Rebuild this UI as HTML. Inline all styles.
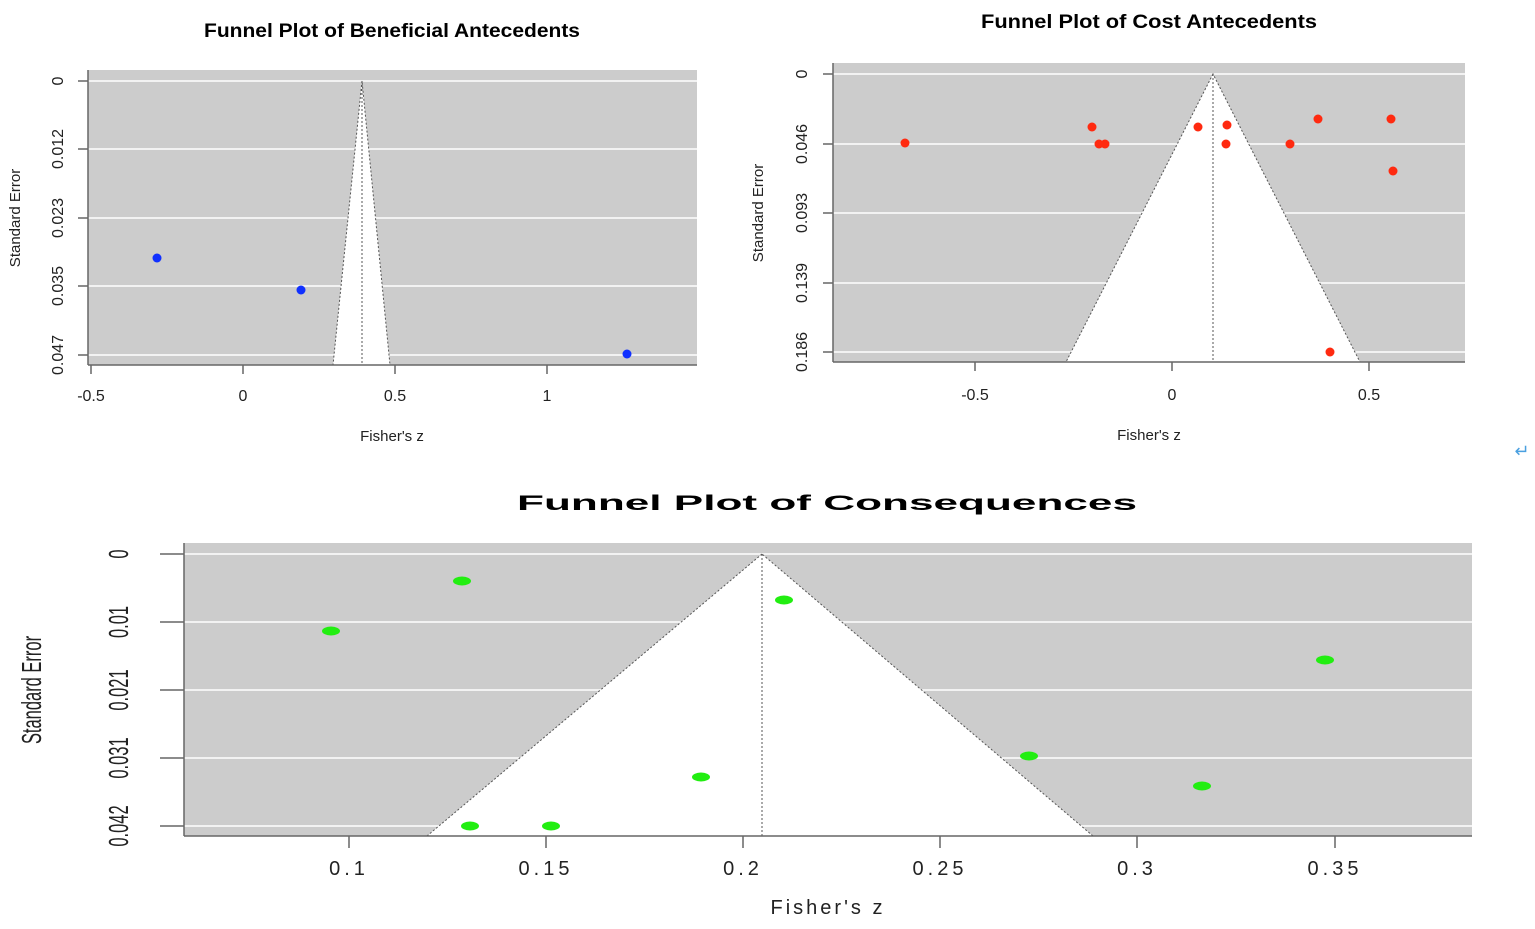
<!DOCTYPE html>
<html><head><meta charset="utf-8"><style>html,body{margin:0;padding:0;background:#fff}svg{display:block}</style></head>
<body>
<svg width="1535" height="929" viewBox="0 0 1535 929" xmlns="http://www.w3.org/2000/svg" font-family="Liberation Sans, sans-serif">
<!-- Plot 1 -->
<text x="392" y="37" font-size="19" font-weight="bold" text-anchor="middle" textLength="376" lengthAdjust="spacingAndGlyphs">Funnel Plot of Beneficial Antecedents</text>
<rect x="88" y="70" width="609" height="295" fill="#cccccc"/>
<g stroke="#f2f2f2" stroke-width="2"><line x1="88" y1="81" x2="697" y2="81"/><line x1="88" y1="149" x2="697" y2="149"/><line x1="88" y1="218" x2="697" y2="218"/><line x1="88" y1="286" x2="697" y2="286"/><line x1="88" y1="355" x2="697" y2="355"/></g>
<polygon points="362,81 333,365 390,365" fill="#fff" stroke="#555" stroke-width="1" stroke-dasharray="2,2"/>
<line x1="362" y1="81" x2="362" y2="365" stroke="#555" stroke-dasharray="2,2"/>
<g stroke="#666" stroke-width="1.5" fill="none"><line x1="88" y1="70" x2="88" y2="365"/><line x1="88" y1="365" x2="697" y2="365"/>
<line x1="78" y1="81" x2="88" y2="81"/><line x1="78" y1="149" x2="88" y2="149"/><line x1="78" y1="218" x2="88" y2="218"/><line x1="78" y1="286" x2="88" y2="286"/><line x1="78" y1="355" x2="88" y2="355"/>
<line x1="91" y1="365" x2="91" y2="374"/><line x1="243" y1="365" x2="243" y2="374"/><line x1="395" y1="365" x2="395" y2="374"/><line x1="547" y1="365" x2="547" y2="374"/></g>
<g font-size="16" fill="#222" text-anchor="middle"><text x="91" y="401">-0.5</text><text x="243" y="401">0</text><text x="395" y="401">0.5</text><text x="547" y="401">1</text></g>
<g font-size="16" fill="#222" text-anchor="middle">
<text transform="translate(63,81) rotate(-90)">0</text><text transform="translate(63,149) rotate(-90)">0.012</text><text transform="translate(63,218) rotate(-90)">0.023</text><text transform="translate(63,286) rotate(-90)">0.035</text><text transform="translate(63,355) rotate(-90)">0.047</text>
<text transform="translate(20,218) rotate(-90)" font-size="15">Standard Error</text></g>
<text x="392" y="441" font-size="15" text-anchor="middle" fill="#222">Fisher's z</text>
<g fill="#1030ff"><circle cx="157" cy="258" r="4.5"/><circle cx="301" cy="290" r="4.5"/><circle cx="627" cy="354" r="4.5"/></g>

<!-- Plot 2 -->
<text x="1149" y="28" font-size="19" font-weight="bold" text-anchor="middle" textLength="336" lengthAdjust="spacingAndGlyphs">Funnel Plot of Cost Antecedents</text>
<rect x="833" y="63" width="632" height="299" fill="#cccccc"/>
<g stroke="#f2f2f2" stroke-width="2"><line x1="833" y1="74" x2="1465" y2="74"/><line x1="833" y1="144" x2="1465" y2="144"/><line x1="833" y1="213" x2="1465" y2="213"/><line x1="833" y1="283" x2="1465" y2="283"/><line x1="833" y1="352" x2="1465" y2="352"/></g>
<polygon points="1213,74 1066,362 1360,362" fill="#fff" stroke="#555" stroke-width="1" stroke-dasharray="2,2"/>
<line x1="1213" y1="74" x2="1213" y2="362" stroke="#555" stroke-dasharray="2,2"/>
<g stroke="#666" stroke-width="1.5"><line x1="833" y1="63" x2="833" y2="362"/><line x1="833" y1="362" x2="1465" y2="362"/>
<line x1="823" y1="74" x2="833" y2="74"/><line x1="823" y1="144" x2="833" y2="144"/><line x1="823" y1="213" x2="833" y2="213"/><line x1="823" y1="283" x2="833" y2="283"/><line x1="823" y1="352" x2="833" y2="352"/>
<line x1="975" y1="362" x2="975" y2="371"/><line x1="1172" y1="362" x2="1172" y2="371"/><line x1="1369" y1="362" x2="1369" y2="371"/></g>
<g font-size="16" fill="#222" text-anchor="middle"><text x="975" y="400">-0.5</text><text x="1172" y="400">0</text><text x="1369" y="400">0.5</text></g>
<g font-size="16" fill="#222" text-anchor="middle">
<text transform="translate(807,74) rotate(-90)">0</text><text transform="translate(807,144) rotate(-90)">0.046</text><text transform="translate(807,213) rotate(-90)">0.093</text><text transform="translate(807,283) rotate(-90)">0.139</text><text transform="translate(807,352) rotate(-90)">0.186</text>
<text transform="translate(763,213) rotate(-90)" font-size="15">Standard Error</text></g>
<text x="1149" y="440" font-size="15" text-anchor="middle" fill="#222">Fisher's z</text>
<g fill="#ff2a10"><circle cx="905" cy="143" r="4.5"/><circle cx="1092" cy="127" r="4.5"/><circle cx="1099" cy="144" r="4.5"/><circle cx="1105" cy="144" r="4.5"/><circle cx="1198" cy="127" r="4.5"/><circle cx="1227" cy="125" r="4.5"/><circle cx="1226" cy="144" r="4.5"/><circle cx="1290" cy="144" r="4.5"/><circle cx="1318" cy="119" r="4.5"/><circle cx="1391" cy="119" r="4.5"/><circle cx="1393" cy="171" r="4.5"/><circle cx="1330" cy="352" r="4.5"/></g>
<text x="1522" y="457" font-size="18" fill="#4aa0e0" text-anchor="middle">↵</text>

<!-- Plot 3 -->
<text x="827" y="510" font-size="21" font-weight="bold" text-anchor="middle" textLength="620" lengthAdjust="spacingAndGlyphs">Funnel Plot of Consequences</text>
<rect x="184" y="543" width="1288" height="293" fill="#cccccc"/>
<g stroke="#f2f2f2" stroke-width="2"><line x1="184" y1="554" x2="1472" y2="554"/><line x1="184" y1="622" x2="1472" y2="622"/><line x1="184" y1="690" x2="1472" y2="690"/><line x1="184" y1="758" x2="1472" y2="758"/><line x1="184" y1="826" x2="1472" y2="826"/></g>
<polygon points="762,554 427,836 1093,836" fill="#fff" stroke="#555" stroke-width="1" stroke-dasharray="2,2"/>
<line x1="762" y1="554" x2="762" y2="836" stroke="#555" stroke-dasharray="2,2"/>
<g stroke="#666" stroke-width="1.5"><line x1="184" y1="543" x2="184" y2="836"/><line x1="184" y1="836" x2="1472" y2="836"/>
<line x1="160" y1="554" x2="184" y2="554"/><line x1="160" y1="622" x2="184" y2="622"/><line x1="160" y1="690" x2="184" y2="690"/><line x1="160" y1="758" x2="184" y2="758"/><line x1="160" y1="826" x2="184" y2="826"/>
<line x1="349" y1="836" x2="349" y2="848"/><line x1="546" y1="836" x2="546" y2="848"/><line x1="743" y1="836" x2="743" y2="848"/><line x1="940" y1="836" x2="940" y2="848"/><line x1="1137" y1="836" x2="1137" y2="848"/><line x1="1335" y1="836" x2="1335" y2="848"/></g>
<g font-size="20" fill="#222" text-anchor="middle" letter-spacing="4"><text x="349" y="875">0.1</text><text x="546" y="875">0.15</text><text x="743" y="875">0.2</text><text x="940" y="875">0.25</text><text x="1137" y="875">0.3</text><text x="1335" y="875">0.35</text></g>
<g font-size="22" fill="#222" text-anchor="middle">
<text transform="translate(128,554) rotate(-90) scale(0.75,1.25)">0</text><text transform="translate(128,622) rotate(-90) scale(0.75,1.25)">0.01</text><text transform="translate(128,690) rotate(-90) scale(0.75,1.25)">0.021</text><text transform="translate(128,758) rotate(-90) scale(0.75,1.25)">0.031</text><text transform="translate(128,826) rotate(-90) scale(0.75,1.25)">0.042</text>
<text transform="translate(41,690) rotate(-90) scale(0.75,1.25)">Standard Error</text></g>
<text x="828" y="914" font-size="20" text-anchor="middle" fill="#222" letter-spacing="3">Fisher's z</text>
<g fill="#22ee11"><ellipse cx="462" cy="581" rx="9" ry="4.5"/><ellipse cx="331" cy="631" rx="9" ry="4.5"/><ellipse cx="784" cy="600" rx="9" ry="4.5"/><ellipse cx="1325" cy="660" rx="9" ry="4.5"/><ellipse cx="1029" cy="756" rx="9" ry="4.5"/><ellipse cx="701" cy="777" rx="9" ry="4.5"/><ellipse cx="1202" cy="786" rx="9" ry="4.5"/><ellipse cx="470" cy="826" rx="9" ry="4.5"/><ellipse cx="551" cy="826" rx="9" ry="4.5"/></g>
</svg>
</body></html>
